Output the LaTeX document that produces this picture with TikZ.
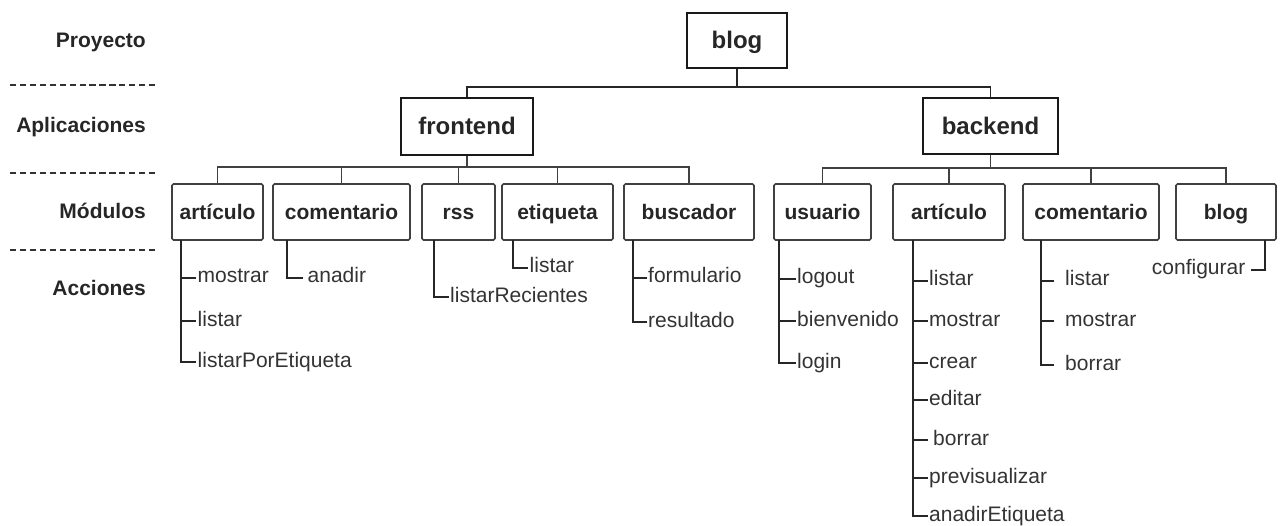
\documentclass[tikz,border=0pt]{standalone}
\usepackage{fontspec}
\setmainfont{Liberation Sans}
\usetikzlibrary{calc}
\begin{document}
\begin{tikzpicture}[x=1pt,y=-1pt,
  lbl/.style={anchor=east, inner sep=0pt, font=\fontsize{21}{24}\selectfont\bfseries, text height=15pt, text depth=0pt, text=black!85},
  sepline/.style={line width=2pt, dash pattern=on 6.2pt off 3.73pt, draw=black!80},
  topbox/.style={draw=black!90, line width=2.4pt, inner sep=0pt, font=\fontsize{24}{28}\selectfont\bfseries, text height=17pt, text depth=0pt, text=black!85},
  modbox/.style={draw=black!75, line width=1.6pt, rounded corners=1.5pt, inner sep=0pt, minimum height=56pt, font=\fontsize{21}{24}\selectfont\bfseries, text height=15pt, text depth=0pt, text=black!85},
  act/.style={anchor=west, inner xsep=1.5pt, inner ysep=0pt, font=\fontsize{21}{24}\selectfont, text height=10pt, text depth=0pt, text=black!80},
  actr/.style={act, anchor=east},
  conn/.style={line width=1.9pt, draw=black!85},
  mconn/.style={line width=1.5pt, draw=black!75},
  aconn/.style={line width=1.8pt, draw=black!85}
]
\useasboundingbox (0,0) rectangle (1281,526);

% level labels
\node[lbl] (lp) at (146,40) {Proyecto};
\node[lbl] (la) at (146,125) {Aplicaciones};
\node[lbl] (lm) at (146,211.5) {Módulos};
\node[lbl] (lac) at (146,288.5) {Acciones};
\draw[sepline] (10,85) -- (155,85);
\draw[sepline] (10,173) -- (155,173);
\draw[sepline] (10,250) -- (155,250);

% project and applications
\node[topbox, minimum width=100pt, minimum height=55pt] (blog) at (737,40.5) {blog};
\node[topbox, minimum width=132pt, minimum height=57pt] (frontend) at (467,126.5) {frontend};
\node[topbox, minimum width=135pt, minimum height=56pt] (backend) at (990.5,126) {backend};

\coordinate (j0) at (737,87);
\draw[conn] (blog.south) -- (j0) -| (frontend.north);
\draw[conn] (j0) -| (backend.north);

% frontend modules
\node[modbox, minimum width=91pt] (fart) at (217.5,212) {artículo};
\node[modbox, minimum width=137pt] (fcom) at (341.5,212) {comentario};
\node[modbox, minimum width=73pt] (frss) at (458.5,212) {rss};
\node[modbox, minimum width=111pt] (feti) at (557.5,212) {etiqueta};
\node[modbox, minimum width=130pt] (fbus) at (689,212) {buscador};

\coordinate (j1) at (467,167);
\draw[mconn] (frontend.south) -- (j1);
\foreach \m in {fart,fcom,frss,feti,fbus} \draw[mconn] (j1) -| (\m.north);

% backend modules
\node[modbox, minimum width=97pt] (busu) at (822.5,212) {usuario};
\node[modbox, minimum width=112pt] (bart) at (949,212) {artículo};
\node[modbox, minimum width=136pt] (bcom) at (1091,212) {comentario};
\node[modbox, minimum width=100pt] (bblog) at (1226,212) {blog};

\coordinate (j2) at (990.5,168);
\draw[mconn] (backend.south) -- (j2);
\foreach \m in {busu,bart,bcom,bblog} \draw[mconn] (j2) -| (\m.north);

% frontend actions
\coordinate (vfart) at (181,240);
\node[act] (fa1) at (196,278) {mostrar};
\node[act] (fa2) at (196,321) {listar};
\node[act] (fa3) at (196,362) {listarPorEtiqueta};
\foreach \a in {fa1,fa2,fa3} \draw[aconn] (vfart) |- (\a.west);

\coordinate (vfcom) at (287,240);
\node[act] (fc1) at (306,278) {anadir};
\draw[aconn] (vfcom) |- ([xshift=-3pt]fc1.west);

\coordinate (vfrss) at (434,240);
\node[act] (fr1) at (448.5,297) {listarRecientes};
\draw[aconn] (vfrss) |- (fr1.west);

\coordinate (vfeti) at (513,240);
\node[act] (fe1) at (528,268) {listar};
\draw[aconn] (vfeti) |- (fe1.west);

\coordinate (vfbus) at (633,240);
\node[act] (fb1) at (646.5,278) {formulario};
\node[act] (fb2) at (646.5,322) {resultado};
\foreach \a in {fb1,fb2} \draw[aconn] (vfbus) |- (\a.west);

% backend actions
\coordinate (vbusu) at (779,240);
\node[act] (bu1) at (795.5,279) {logout};
\node[act] (bu2) at (795.5,321) {bienvenido};
\node[act] (bu3) at (795.5,363) {login};
\foreach \a in {bu1,bu2,bu3} \draw[aconn] (vbusu) |- (\a.west);

\coordinate (vbart) at (913,240);
\node[act] (ba1) at (927.5,281) {listar};
\node[act] (ba2) at (927.5,321) {mostrar};
\node[act] (ba3) at (927.5,363) {crear};
\node[act] (ba4) at (927.5,400) {editar};
\node[act] (ba5) at (931.5,440) {borrar};
\node[act] (ba6) at (927.5,478) {previsualizar};
\node[act] (ba7) at (927.5,516) {anadirEtiqueta};
\foreach \a in {ba1,ba2,ba3,ba4,ba6,ba7} \draw[aconn] (vbart) |- (\a.west);
\draw[aconn] (vbart) |- ([xshift=-4pt]ba5.west);

\coordinate (vbcom) at (1041,240);
\node[act] (bc1) at (1063.5,281) {listar};
\node[act] (bc2) at (1063.5,321) {mostrar};
\node[act] (bc3) at (1063.5,365) {borrar};
\foreach \a in {bc1,bc2,bc3} \draw[aconn] (vbcom) |- ([xshift=-10pt]\a.west);

\coordinate (vbblog) at (1265,240);
\node[actr] (bg1) at (1247,270) {configurar};
\draw[aconn] (vbblog) |- ([xshift=4pt]bg1.east);
\end{tikzpicture}
\end{document}
